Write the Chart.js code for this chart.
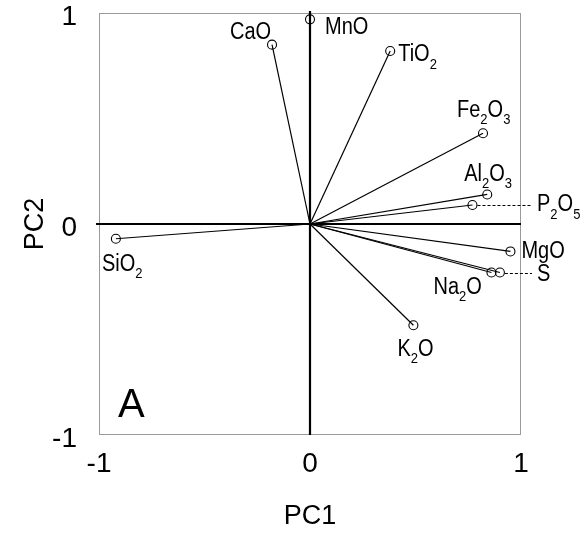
<!DOCTYPE html>
<html>
<head>
<meta charset="utf-8">
<title>PCA loadings, PC1 vs PC2</title>
<script src="https://cdn.jsdelivr.net/npm/chart.js@4/dist/chart.umd.min.js"></script>
<style>
  html, body { margin: 0; padding: 0; background: #fff; }
  canvas { display: block; }
</style>
</head>
<body>
<canvas id="c" width="581" height="537"></canvas>
<script>
// Loadings of each oxide on the first two principal components
const variables = ['SiO2', 'TiO2', 'Al2O3', 'Fe2O3', 'MnO', 'MgO', 'CaO', 'Na2O', 'K2O', 'P2O5', 'S'];
const pc1 = [-0.92, 0.38, 0.84, 0.82, 0.00, 0.95, -0.18, 0.86, 0.49, 0.77, 0.90];
const pc2 = [-0.07, 0.82, 0.14, 0.43, 0.97, -0.13, 0.85, -0.23, -0.48, 0.09, -0.23];
const xTicks = [-1, 0, 1];
const yTicks = [-1, 0, 1];
const panelLetter = 'A';

// Where each name sits relative to its point (offset to the left edge / cap centre of the text);
// "leader" names are pulled outside the frame with a dashed line.
const labelPlacement = {
  SiO2:  { dx: -14, dy: 24 },
  TiO2:  { dx: 8,   dy: 2 },
  Al2O3: { dx: -23, dy: -22 },
  Fe2O3: { dx: -26, dy: -25 },
  MnO:   { dx: 15,  dy: 6 },
  MgO:   { dx: 11,  dy: -2 },
  CaO:   { dx: -42, dy: -14 },
  Na2O:  { dx: -58, dy: 13 },
  K2O:   { dx: -16, dy: 22 },
  P2O5:  { leader: true, dy: -2 },
  S:     { leader: true, dy: 0 }
};

const FONT = '"Liberation Sans", Arial, Helvetica, sans-serif';
const LABEL_SIZE = 20;
const SUB_SIZE = 13;
const TEXT_STRETCH = 1.15;   // names are set slightly condensed (taller than wide)

// Chemical formula with the digits set as subscripts
function drawFormula(ctx, text, x, capCenterY, size) {
  const baseline = capCenterY + size * 0.716 * TEXT_STRETCH / 2;
  const parts = text.match(/\d+|\D+/g);
  ctx.save();
  ctx.translate(x, baseline);
  ctx.scale(1, TEXT_STRETCH);
  ctx.textAlign = 'left';
  ctx.textBaseline = 'alphabetic';
  let cx = 0;
  for (const p of parts) {
    const sub = /^\d+$/.test(p);
    ctx.font = (sub ? SUB_SIZE : size) + 'px ' + FONT;
    ctx.fillText(p, cx, sub ? 6.5 : 0);
    cx += ctx.measureText(p).width;
  }
  ctx.restore();
}

// Frame and the two zero lines, under the loading vectors
const framePlugin = {
  id: 'frame',
  beforeDatasetsDraw(chart) {
    const { ctx, chartArea: a, scales: { x, y } } = chart;
    ctx.save();
    ctx.strokeStyle = '#9a9a9a';
    ctx.lineWidth = 1;
    ctx.strokeRect(a.left + 0.5, a.top + 0.5, a.right - a.left - 1, a.bottom - a.top - 1);
    ctx.strokeStyle = '#000';
    ctx.lineWidth = 2.2;
    const x0 = x.getPixelForValue(0);
    const y0 = y.getPixelForValue(0);
    ctx.beginPath();
    ctx.moveTo(a.left - 3, y0);
    ctx.lineTo(a.right, y0);
    ctx.moveTo(x0, a.top - 2);
    ctx.lineTo(x0, a.bottom);
    ctx.stroke();
    ctx.restore();
  }
};

// Variable names, dashed leaders and the panel letter
const labelPlugin = {
  id: 'labels',
  afterDatasetsDraw(chart) {
    const { ctx, chartArea: a, scales: { x, y } } = chart;
    ctx.save();
    ctx.fillStyle = '#000';
    variables.forEach((name, i) => {
      const px = x.getPixelForValue(pc1[i]);
      const py = y.getPixelForValue(pc2[i]);
      const p = labelPlacement[name];
      if (p.leader) {
        ctx.save();
        ctx.strokeStyle = '#000';
        ctx.lineWidth = 1;
        ctx.setLineDash([3, 2]);
        ctx.beginPath();
        ctx.moveTo(px + 5, Math.round(py) + 0.5);
        ctx.lineTo(a.right + 11, Math.round(py) + 0.5);
        ctx.stroke();
        ctx.restore();
        drawFormula(ctx, name, a.right + 16, py + p.dy, LABEL_SIZE);
      } else {
        drawFormula(ctx, name, px + p.dx, py + p.dy, LABEL_SIZE);
      }
    });
    ctx.font = '40px ' + FONT;
    ctx.textAlign = 'left';
    ctx.textBaseline = 'alphabetic';
    ctx.fillText(panelLetter, a.left + 19, a.bottom - 18);
    ctx.restore();
  }
};

const datasets = variables.map((name, i) => ({
  label: name,
  data: [{ x: 0, y: 0 }, { x: pc1[i], y: pc2[i] }],
  showLine: true,
  borderColor: '#000',
  borderWidth: 1.2,
  pointRadius: [0, 4.5],
  pointHoverRadius: [0, 4.5],
  pointBorderColor: '#000',
  pointBorderWidth: 1.1,
  pointBackgroundColor: 'rgba(255,255,255,0)'
}));

new Chart(document.getElementById('c'), {
  type: 'scatter',
  data: { datasets },
  plugins: [framePlugin, labelPlugin],
  options: {
    responsive: false,
    devicePixelRatio: 1,
    animation: false,
    events: [],
    layout: { padding: { top: 13, right: 60, bottom: 0, left: 0 } },
    plugins: { legend: { display: false }, tooltip: { enabled: false } },
    scales: {
      x: {
        type: 'linear',
        min: -1,
        max: 1,
        afterBuildTicks: s => { s.ticks = xTicks.map(v => ({ value: v })); },
        afterFit: s => { s.height = 102; s.paddingLeft = 0; s.paddingRight = 0; },
        grid: { display: false, drawTicks: false },
        border: { display: false },
        ticks: {
          color: '#000',
          font: { size: 28, family: FONT },
          padding: 12,
          maxRotation: 0,
          callback: v => String(v)
        },
        title: {
          display: true,
          text: 'PC1',
          color: '#000',
          font: { size: 27, family: FONT },
          padding: { top: 0, bottom: 4 }
        }
      },
      y: {
        type: 'linear',
        min: -1,
        max: 1,
        afterBuildTicks: s => { s.ticks = yTicks.map(v => ({ value: v })); },
        afterFit: s => { s.width = 99; s.paddingTop = 0; s.paddingBottom = 0; },
        grid: { display: false, drawTicks: false },
        border: { display: false },
        ticks: {
          color: '#000',
          font: { size: 28, family: FONT },
          padding: 22,
          labelOffset: 4,
          callback: v => String(v)
        },
        title: {
          display: true,
          text: 'PC2',
          color: '#000',
          font: { size: 27, family: FONT },
          padding: { top: 19, bottom: 0 }
        }
      }
    }
  }
});
</script>
</body>
</html>
